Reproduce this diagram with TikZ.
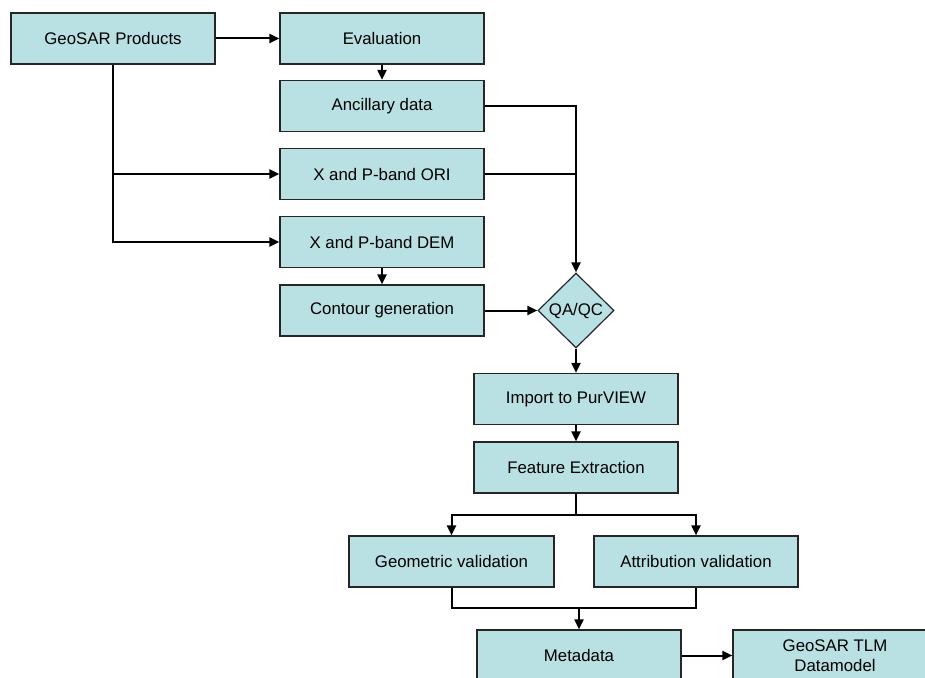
\documentclass[tikz,border=0pt]{standalone}
\usepackage{fontspec}
\setmainfont{Liberation Sans}
\usetikzlibrary{shapes.geometric,arrows.meta}
\definecolor{boxfill}{HTML}{B9E0E3}
\definecolor{boxline}{HTML}{262626}
\begin{document}
\begin{tikzpicture}[x=1pt,y=-1pt,
  box/.style={draw=boxline,line width=1.2pt,fill=boxfill,minimum width=204pt,minimum height=51pt,inner sep=0pt,font=\fontsize{16.8}{20}\selectfont,align=center},
  dia/.style={diamond,draw=boxline,line width=1.2pt,fill=boxfill,minimum width=76pt,minimum height=75pt,inner sep=0pt,font=\fontsize{16.8}{20}\selectfont},
  conn/.style={line width=2pt,black},
  arr/.style={conn,-{Triangle[length=10pt,width=9pt]}}]
\useasboundingbox (0,0) rectangle (925,677);
\clip (0,0) rectangle (925,677);
\fill[white] (0,0) rectangle (925,677);
\node[box] (prod) at (113,38.5) {GeoSAR Products};
\node[box] (eval) at (382,38.5) {Evaluation};
\node[box] (anc) at (382,106) {Ancillary data};
\node[box] (ori) at (382,174) {X and P-band ORI};
\node[box] (dem) at (382,242) {X and P-band DEM};
\node[box] (cont) at (382,310.5) {Contour generation};
\node[dia] (qa) at (576,310.5) {QA/QC};
\node[box] (imp) at (576,399) {Import to PurVIEW};
\node[box] (feat) at (576,467.5) {Feature Extraction};
\node[box,minimum width=205pt] (geo) at (451.5,561.5) {Geometric validation};
\node[box] (attr) at (696,561.5) {Attribution validation};
\node[box] (meta) at (579,655.5) {Metadata};
\node[box] (tlm) at (835,655.5) {GeoSAR TLM\\Datamodel};
\coordinate (trunk) at (prod.south |- ori.west);
\coordinate (fb) at (576,515);
\coordinate (mg) at (meta.north |- 0,608);
\draw[arr] (prod.east) -- (eval.west);
\draw[arr] (eval.south) -- (anc.north);
\draw[arr] (prod.south) |- (dem.west);
\draw[arr] (trunk) -- (ori.west);
\draw[arr] (anc.east) -| (qa.north);
\draw[conn] (ori.east) -- (ori.east -| qa.north);
\draw[arr] (dem.south) -- (cont.north);
\draw[arr] (cont.east) -- (qa.west);
\draw[arr] (qa.south) -- (imp.north);
\draw[arr] (imp.south) -- (feat.north);
\draw[conn] (feat.south) -- (fb);
\draw[arr] (fb) -| (geo.north);
\draw[arr] (fb) -| (attr.north);
\draw[conn] (geo.south) |- (0,608 -| attr.south) -- (attr.south);
\draw[arr] (mg) -- (meta.north);
\draw[arr] (meta.east) -- (tlm.west);
\end{tikzpicture}
\end{document}
